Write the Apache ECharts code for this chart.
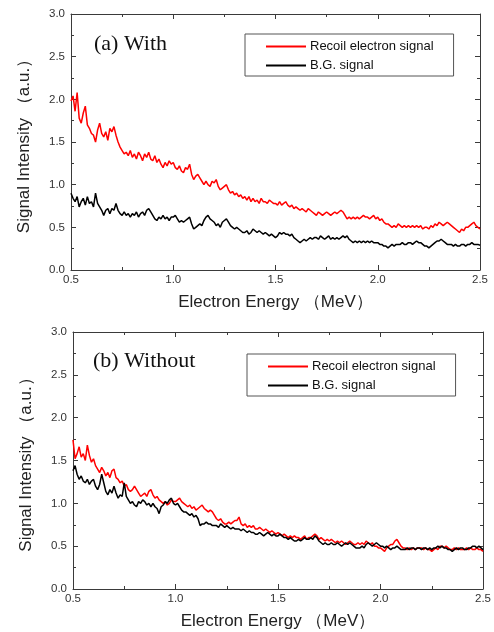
<!DOCTYPE html>
<html>
<head>
<meta charset="utf-8">
<script src="https://cdn.jsdelivr.net/npm/echarts@6/dist/echarts.min.js"></script>
<style>
html,body{margin:0;padding:0;background:#fff;}
#c{width:494px;height:632px;}
</style>
</head>
<body>
<div id="c"></div>
<script>
// Energy sampling (MeV), 0.50 .. 2.50 in 0.01 steps
var energyStart = 0.5, energyStep = 0.01;
var xTicks = ['0.5','1.0','1.5','2.0','2.5'];
var yTicks = ['0.0','0.5','1.0','1.5','2.0','2.5','3.0'];
var seriesNames = ['Recoil electron signal', 'B.G. signal'];
var panelTitles = ['(a) With', '(b) Without'];

// (a) With
var withRecoil = [
1.98,2.04,1.86,2.08,1.78,1.72,1.84,1.92,1.70,1.66,
1.60,1.58,1.50,1.64,1.72,1.60,1.56,1.62,1.52,1.66,
1.62,1.68,1.58,1.50,1.44,1.40,1.36,1.38,1.34,1.40,
1.32,1.36,1.30,1.38,1.34,1.28,1.36,1.32,1.38,1.30,
1.28,1.34,1.26,1.30,1.24,1.20,1.26,1.22,1.28,1.24,
1.26,1.20,1.18,1.22,1.16,1.14,1.20,1.18,1.24,1.12,
1.06,1.10,1.12,1.08,1.04,1.00,1.04,1.00,0.98,1.04,
1.02,1.06,0.98,0.94,0.96,0.98,1.00,0.94,0.90,0.92,
0.88,0.90,0.86,0.88,0.84,0.86,0.82,0.86,0.80,0.84,
0.80,0.82,0.78,0.84,0.80,0.80,0.78,0.82,0.80,0.78,
0.78,0.76,0.80,0.76,0.78,0.80,0.76,0.74,0.76,0.72,
0.74,0.72,0.70,0.72,0.70,0.68,0.72,0.70,0.68,0.66,
0.64,0.68,0.66,0.64,0.66,0.68,0.66,0.64,0.66,0.68,
0.66,0.68,0.70,0.68,0.64,0.60,0.62,0.60,0.62,0.60,
0.62,0.60,0.62,0.64,0.62,0.62,0.60,0.62,0.64,0.60,
0.62,0.58,0.60,0.56,0.54,0.54,0.52,0.50,0.52,0.50,
0.54,0.52,0.50,0.52,0.50,0.52,0.50,0.52,0.50,0.52,
0.50,0.52,0.48,0.50,0.50,0.48,0.52,0.50,0.54,0.52,
0.56,0.54,0.52,0.54,0.56,0.54,0.52,0.50,0.48,0.46,
0.44,0.48,0.46,0.50,0.50,0.52,0.54,0.56,0.52,0.50,
0.48];
var withBG = [
0.90,0.84,0.80,0.86,0.74,0.80,0.84,0.76,0.86,0.78,
0.80,0.74,0.90,0.78,0.74,0.70,0.64,0.70,0.72,0.66,
0.72,0.70,0.78,0.70,0.66,0.64,0.68,0.64,0.66,0.62,
0.66,0.64,0.68,0.62,0.66,0.68,0.64,0.70,0.72,0.68,
0.64,0.60,0.58,0.62,0.60,0.64,0.60,0.62,0.58,0.62,
0.62,0.64,0.60,0.56,0.58,0.56,0.58,0.60,0.62,0.54,
0.48,0.50,0.52,0.54,0.52,0.58,0.62,0.64,0.60,0.58,
0.56,0.52,0.54,0.50,0.56,0.58,0.60,0.56,0.52,0.50,
0.48,0.50,0.48,0.46,0.44,0.44,0.46,0.42,0.44,0.48,
0.46,0.44,0.46,0.44,0.42,0.44,0.42,0.40,0.42,0.40,
0.38,0.40,0.44,0.42,0.44,0.42,0.42,0.40,0.42,0.38,
0.36,0.34,0.32,0.34,0.36,0.34,0.36,0.38,0.36,0.38,
0.38,0.36,0.40,0.38,0.36,0.38,0.40,0.36,0.38,0.36,
0.38,0.36,0.38,0.40,0.38,0.40,0.36,0.34,0.32,0.34,
0.32,0.34,0.32,0.34,0.32,0.34,0.32,0.34,0.32,0.32,
0.32,0.30,0.30,0.28,0.28,0.26,0.28,0.30,0.28,0.30,
0.30,0.30,0.32,0.30,0.30,0.32,0.32,0.30,0.32,0.34,
0.32,0.32,0.30,0.28,0.28,0.26,0.28,0.30,0.32,0.34,
0.34,0.36,0.34,0.32,0.30,0.30,0.30,0.28,0.30,0.28,
0.28,0.30,0.30,0.28,0.30,0.30,0.32,0.30,0.30,0.30,
0.29];

// (b) Without
var withoutRecoil = [
1.74,1.52,1.58,1.66,1.54,1.58,1.50,1.68,1.56,1.48,
1.52,1.44,1.40,1.36,1.42,1.38,1.32,1.36,1.30,1.38,
1.40,1.30,1.28,1.24,1.26,1.20,1.22,1.16,1.14,1.16,
1.20,1.16,1.12,1.08,1.10,1.12,1.08,1.14,1.16,1.10,
1.06,1.08,1.04,1.02,1.00,1.02,0.98,1.00,1.04,1.02,
1.02,1.04,1.06,1.02,1.00,0.98,0.96,0.98,0.94,0.96,
0.92,0.94,0.96,0.98,0.94,0.92,0.90,0.92,0.90,0.86,
0.82,0.80,0.82,0.78,0.76,0.76,0.78,0.76,0.78,0.80,
0.80,0.84,0.76,0.74,0.76,0.72,0.74,0.72,0.74,0.70,
0.70,0.72,0.70,0.68,0.70,0.68,0.66,0.68,0.66,0.64,
0.66,0.64,0.62,0.64,0.62,0.60,0.62,0.60,0.62,0.60,
0.60,0.58,0.60,0.62,0.58,0.60,0.60,0.62,0.64,0.62,
0.58,0.60,0.58,0.56,0.58,0.56,0.58,0.56,0.54,0.56,
0.54,0.56,0.54,0.52,0.54,0.56,0.54,0.52,0.52,0.54,
0.52,0.54,0.52,0.56,0.54,0.52,0.54,0.50,0.50,0.48,
0.48,0.46,0.44,0.48,0.50,0.52,0.52,0.56,0.58,0.54,
0.50,0.48,0.48,0.46,0.48,0.46,0.48,0.46,0.48,0.48,
0.48,0.46,0.48,0.46,0.46,0.44,0.46,0.48,0.46,0.50,
0.50,0.48,0.50,0.48,0.46,0.46,0.48,0.46,0.48,0.46,
0.46,0.46,0.48,0.46,0.48,0.46,0.46,0.48,0.46,0.46,
0.44];
var withoutBG = [
1.38,1.44,1.34,1.28,1.32,1.26,1.24,1.28,1.22,1.26,
1.28,1.20,1.16,1.22,1.34,1.24,1.14,1.10,1.16,1.12,
1.20,1.12,1.06,1.10,1.08,1.24,1.08,1.04,1.00,1.02,
0.98,0.96,1.02,1.00,1.04,1.02,0.98,1.00,0.96,1.00,
0.96,0.94,0.88,0.96,0.98,1.02,1.00,1.04,1.06,1.00,
0.98,1.00,0.96,0.92,0.90,0.90,0.88,0.86,0.88,0.84,
0.86,0.82,0.74,0.76,0.76,0.78,0.76,0.76,0.74,0.74,
0.74,0.72,0.76,0.74,0.72,0.74,0.72,0.70,0.72,0.70,
0.70,0.70,0.68,0.70,0.68,0.66,0.68,0.66,0.66,0.64,
0.64,0.66,0.64,0.62,0.64,0.66,0.64,0.62,0.64,0.62,
0.62,0.64,0.62,0.60,0.60,0.58,0.60,0.58,0.56,0.56,
0.58,0.56,0.58,0.60,0.58,0.58,0.60,0.58,0.62,0.60,
0.56,0.54,0.52,0.54,0.52,0.52,0.54,0.52,0.52,0.54,
0.52,0.50,0.52,0.54,0.52,0.54,0.52,0.50,0.48,0.48,
0.48,0.50,0.48,0.52,0.54,0.52,0.50,0.52,0.54,0.52,
0.50,0.50,0.48,0.50,0.48,0.46,0.48,0.48,0.50,0.48,
0.46,0.46,0.46,0.48,0.46,0.48,0.48,0.46,0.48,0.48,
0.46,0.48,0.48,0.46,0.48,0.46,0.48,0.48,0.50,0.48,
0.50,0.48,0.48,0.46,0.46,0.44,0.46,0.48,0.46,0.48,
0.48,0.46,0.46,0.48,0.48,0.50,0.50,0.48,0.50,0.48,
0.46];

function pairs(vals){
  return vals.map(function(v,i){ return [+(energyStart + i*energyStep).toFixed(2), v]; });
}

var axisColor = '#3a3a3a';
var labelColor = '#333';
var xMin = parseFloat(xTicks[0]), xMax = parseFloat(xTicks[xTicks.length-1]);
var yMin = parseFloat(yTicks[0]), yMax = parseFloat(yTicks[yTicks.length-1]);

function xAxisDef(gridIndex, position, showLabels){
  return {
    type:'value', gridIndex:gridIndex, position:position,
    min:xMin, max:xMax, interval:0.5,
    name: showLabels ? 'Electron Energy （MeV）' : '',
    nameLocation:'middle', nameGap:24,
    nameTextStyle:{fontFamily:'Arial, Liberation Sans', fontSize:17, color:'#222'},
    axisLine:{show:true, onZero:false, lineStyle:{color:axisColor, width:1}},
    axisTick:{show:true, inside:true, length:5, lineStyle:{color:axisColor}},
    minorTick:{show:true, splitNumber:2, length:3, lineStyle:{color:axisColor}},
    splitLine:{show:false},
    axisLabel:{show:showLabels, margin:4, fontFamily:'Arial, Liberation Sans', fontSize:11.5, color:labelColor,
      formatter:function(v){ return v.toFixed(1); }}
  };
}
function yAxisDef(gridIndex, position, showLabels){
  return {
    type:'value', gridIndex:gridIndex, position:position,
    min:yMin, max:yMax, interval:0.5,
    name: showLabels ? 'Signal Intensity （a.u.）' : '',
    nameLocation:'middle', nameGap:38,
    nameTextStyle:{fontFamily:'Arial, Liberation Sans', fontSize:17, color:'#222'},
    axisLine:{show:true, onZero:false, lineStyle:{color:axisColor, width:1}},
    axisTick:{show:true, inside:true, length:5, lineStyle:{color:axisColor}},
    minorTick:{show:true, splitNumber:2, length:3, lineStyle:{color:axisColor}},
    splitLine:{show:false},
    axisLabel:{show:showLabels, margin:6, fontFamily:'Arial, Liberation Sans', fontSize:11.5, color:labelColor,
      formatter:function(v){ return v.toFixed(1); }}
  };
}
function lineSeries(name, data, color, xi, yi){
  return {type:'line', name:name, data:pairs(data), xAxisIndex:xi, yAxisIndex:yi,
    showSymbol:false, symbol:'none', animation:false,
    lineStyle:{color:color, width:1.5}, itemStyle:{color:color}};
}
function legendDef(left, top){
  return {
    left:left, top:top, orient:'vertical', data:seriesNames,
    icon:'rect', itemWidth:40, itemHeight:2, itemGap:6,
    padding:[6,20,4,21], borderColor:'#555', borderWidth:1,
    textStyle:{fontFamily:'Arial, Liberation Sans', fontSize:13, color:'#111', padding:[0,0,0,-1]},
    selectedMode:false
  };
}

var chart = echarts.init(document.getElementById('c'), null, {renderer:'canvas'});
chart.setOption({
  backgroundColor:'#fff',
  animation:false,
  grid:[
    {left:71, width:409, top:14, height:256},
    {left:73, width:411, top:332, height:257}
  ],
  xAxis:[xAxisDef(0,'bottom',true), xAxisDef(0,'top',false), xAxisDef(1,'bottom',true), xAxisDef(1,'top',false)],
  yAxis:[yAxisDef(0,'left',true), yAxisDef(0,'right',false), yAxisDef(1,'left',true), yAxisDef(1,'right',false)],
  legend:[legendDef(245,34), legendDef(247,354)],
  graphic:[
    {type:'text', left:94, top:33, style:{text:panelTitles[0], font:'22px "Liberation Serif", "Times New Roman", serif', fill:'#111'}},
    {type:'text', left:93, top:350, style:{text:panelTitles[1], font:'22px "Liberation Serif", "Times New Roman", serif', fill:'#111'}}
  ],
  series:[
    lineSeries(seriesNames[0], withRecoil, '#ff0000', 0, 0),
    lineSeries(seriesNames[1], withBG, '#000000', 0, 0),
    lineSeries(seriesNames[0], withoutRecoil, '#ff0000', 2, 2),
    lineSeries(seriesNames[1], withoutBG, '#000000', 2, 2)
  ]
});
</script>
</body>
</html>
